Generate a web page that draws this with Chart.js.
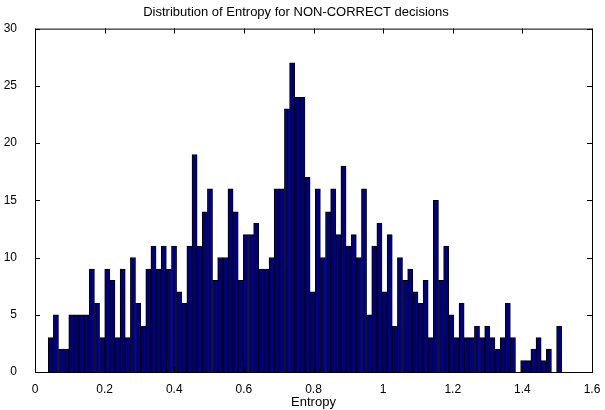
<!DOCTYPE html>
<html>
<head>
<meta charset="utf-8">
<script src="https://cdn.jsdelivr.net/npm/chart.js@4"></script>
<style>
  html, body { margin: 0; padding: 0; background: #fff; }
  #wrap { width: 605px; height: 410px; }
</style>
</head>
<body>
<div id="wrap"><canvas id="histChart"></canvas></div>
<script>
// histogram counts, 100 bins
const counts = [
  3, 5, 2, 2, 5, 5, 5, 5, 9, 6, 3, 9, 8, 3, 9, 3, 10, 6, 4, 9,
  11, 9, 11, 9, 11, 7, 6, 11, 19, 11, 14, 16, 8, 10, 10, 16, 14, 8, 12, 12,
  13, 9, 9, 10, 16, 16, 23, 27, 24, 24, 17, 7, 16, 10, 14, 16, 12, 18, 11, 12,
  10, 16, 5, 11, 13, 7, 12, 4, 10, 8, 9, 7, 6, 8, 3, 15, 8, 11, 5, 3,
  6, 3, 3, 4, 3, 4, 3, 2, 3, 6, 3, 0, 1, 1, 2, 3, 1, 2, 0, 4
];
const binStart = 0.038;
const binWidth = 0.01475;
const xTicks = [0, 0.2, 0.4, 0.6, 0.8, 1, 1.2, 1.4, 1.6];
const yTicks = [0, 5, 10, 15, 20, 25, 30];

const points = counts.map((c, i) => ({ x: binStart + binWidth * (i + 0.5), y: c }));

// matlab style box + inward ticks
const boxPlugin = {
  id: "box",
  afterDraw(chart) {
    const { ctx, chartArea: a, scales } = chart;
    ctx.save();
    ctx.strokeStyle = "#000";
    ctx.lineWidth = 1;
    ctx.strokeRect(a.left + 0.5, a.top + 0.5, a.right - a.left, a.bottom - a.top);
    ctx.beginPath();
    xTicks.forEach(v => {
      const px = Math.round(scales.x.getPixelForValue(v)) + 0.5;
      ctx.moveTo(px, a.bottom); ctx.lineTo(px, a.bottom - 5);
      ctx.moveTo(px, a.top); ctx.lineTo(px, a.top + 5);
    });
    yTicks.forEach(v => {
      const py = Math.round(scales.y.getPixelForValue(v)) + 0.5;
      ctx.moveTo(a.left, py); ctx.lineTo(a.left + 5, py);
      ctx.moveTo(a.right, py); ctx.lineTo(a.right - 5, py);
    });
    ctx.stroke();
    ctx.restore();
  }
};

new Chart(document.getElementById("histChart").getContext("2d"), {
  type: "bar",
  data: {
    datasets: [{
      data: points,
      backgroundColor: "#00007f",
      borderColor: "#000000",
      borderWidth: 1,
      barPercentage: 1,
      categoryPercentage: 1,
      grouped: false
    }]
  },
  options: {
    responsive: true,
    maintainAspectRatio: false,
    animation: false,
    layout: { padding: { left: 0, right: 13, top: 0, bottom: 0 } },
    plugins: {
      legend: { display: false },
      tooltip: { enabled: false },
      title: {
        display: true,
        text: "Distribution of Entropy for NON-CORRECT decisions",
        color: "#000",
        font: { family: "Liberation Sans", size: 13, weight: "normal" },
        padding: { top: 5, bottom: 8 }
      }
    },
    scales: {
      x: {
        type: "linear",
        offset: false,
        min: 0, max: 1.6,
        afterBuildTicks: s => { s.ticks = xTicks.map(v => ({ value: v })); },
        afterFit: s => { s.height = 38; },
        grid: { display: false, offset: false },
        border: { display: false },
        ticks: {
          color: "#000",
          font: { family: "Liberation Sans", size: 12 },
          padding: 2,
          maxRotation: 0,
          callback: v => String(Math.round(v * 10) / 10)
        },
        title: {
          display: true, text: "Entropy", color: "#000",
          font: { family: "Liberation Sans", size: 13 },
          padding: { top: 0, bottom: 0 }
        }
      },
      y: {
        min: 0, max: 30,
        afterBuildTicks: s => { s.ticks = yTicks.map(v => ({ value: v })); },
        afterFit: s => { s.width = 35; },
        grid: { display: false },
        border: { display: false },
        ticks: {
          color: "#000",
          font: { family: "Liberation Sans", size: 12 },
          padding: 10
        }
      }
    }
  },
  plugins: [boxPlugin]
});
</script>
</body>
</html>
